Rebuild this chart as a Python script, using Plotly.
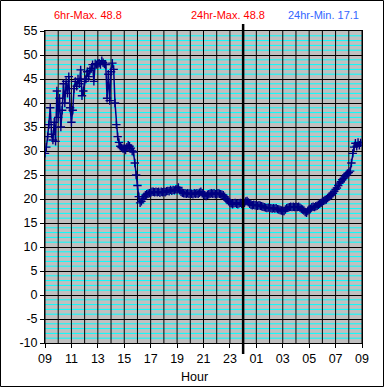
import plotly.graph_objects as go

# Readings every 6 minutes, one list per clock hour (starting at 09:00)
temp_09h = [29.5, 30.8, 33.0, 35.5, 39.0, 33.5, 32.3, 36.0, 32.0, 42.5]
temp_10h = [37.0, 41.0, 35.0, 38.5, 44.0, 40.0, 44.5, 42.0, 45.5, 39.0]
temp_11h = [36.0, 38.5, 43.0, 44.5, 43.5, 45.0, 44.0, 46.9, 41.5, 42.5]
temp_12h = [44.5, 45.0, 46.5, 45.5, 46.8, 47.2, 48.0, 44.5, 48.2, 48.0]
temp_13h = [48.2, 48.3, 48.0, 48.8, 48.4, 48.1, 48.0, 41.0, 46.0, 40.5]
temp_14h = [46.5, 48.3, 47.0, 40.0, 35.5, 33.0, 31.8, 31.0, 30.7, 30.5]
temp_15h = [30.5, 30.2, 30.8, 31.2, 31.0, 30.6, 30.0, 29.8, 27.5, 25.0]
temp_16h = [22.8, 20.5, 19.2, 19.5, 20.0, 20.5, 20.8, 21.0, 21.1, 21.2]
temp_17h = [21.3, 21.5, 21.5, 21.4, 21.5, 21.4, 21.5, 21.3, 21.5, 21.4]
temp_18h = [21.5, 21.4, 21.6, 21.7, 21.6, 21.9, 21.7, 21.9, 21.8, 22.0]
temp_19h = [22.0, 22.4, 21.8, 21.5, 21.3, 21.2, 21.2, 21.1, 21.2, 21.1]
temp_20h = [21.2, 21.1, 21.0, 21.2, 21.1, 21.2, 21.1, 21.3, 21.5, 21.2]
temp_21h = [21.0, 20.8, 20.6, 20.9, 21.0, 21.1, 21.2, 21.1, 21.2, 21.0]
temp_22h = [21.1, 21.2, 21.1, 21.0, 20.9, 20.8, 20.5, 20.1, 19.8, 19.5]
temp_23h = [19.2, 19.1, 18.9, 19.1, 19.2, 19.0, 18.9, 19.1, 19.2, 19.0]
temp_00h = [19.1, 19.2, 19.5, 19.6, 19.3, 19.0, 18.8, 18.7, 18.8, 18.7]
temp_01h = [18.7, 18.6, 18.7, 18.6, 18.5, 18.4, 18.3, 18.2, 18.1, 18.2]
temp_02h = [18.1, 18.1, 18.0, 18.1, 18.0, 18.1, 17.9, 17.8, 17.7, 17.6]
temp_03h = [17.5, 17.5, 17.8, 18.1, 18.2, 18.3, 18.4, 18.3, 18.4, 18.3]
temp_04h = [18.4, 18.3, 18.4, 18.2, 18.0, 17.8, 17.6, 17.3, 17.1, 17.5]
temp_05h = [17.8, 18.0, 18.3, 18.4, 18.3, 18.5, 18.6, 18.8, 19.0, 19.2]
temp_06h = [19.4, 19.6, 19.8, 19.9, 20.2, 20.5, 20.7, 20.9, 21.2, 21.6]
temp_07h = [22.0, 22.3, 22.8, 23.3, 23.6, 24.0, 24.3, 24.6, 25.0, 25.3]
temp_08h = [25.5, 25.8, 27.5, 29.5, 30.8, 31.6, 31.0, 31.8, 31.2, 31.7]

hourly_blocks = [temp_09h, temp_10h, temp_11h, temp_12h, temp_13h, temp_14h,
                 temp_15h, temp_16h, temp_17h, temp_18h, temp_19h, temp_20h,
                 temp_21h, temp_22h, temp_23h, temp_00h, temp_01h, temp_02h,
                 temp_03h, temp_04h, temp_05h, temp_06h, temp_07h, temp_08h]

start_hour = 9
end_hour = 33
sample_minutes = 6

x_tick_hours = [9, 11, 13, 15, 17, 19, 21, 23, 25, 27, 29, 31, 33]
x_tick_labels = ["09", "11", "13", "15", "17", "19", "21", "23",
                 "01", "03", "05", "07", "09"]
y_min, y_max = -10, 55
y_tick_values = [55, 50, 45, 40, 35, 30, 25, 20, 15, 10, 5, 0, -5, -10]
y_tick_labels = ["55", "50", "45", "40", "35", "30", "25", "20", "15",
                 "10", "5", "0", "-5", "-10"]

header_texts = ["6hr-Max. 48.8", "24hr-Max. 48.8", "24hr-Min. 17.1"]
header_colors = ["#FF0000", "#FF0000", "#3366FF"]
midnight_hour = 24

temps = [v for block in hourly_blocks for v in block]
hours = [start_hour + i * sample_minutes / 60 for i in range(len(temps))]

W, H = 385, 388
ml, mr, mt, mb = 45, 23, 31, 45
pw, ph = W - ml - mr, H - mt - mb

fig = go.Figure()
fig.add_trace(go.Scatter(
    x=hours, y=temps, mode="lines+markers",
    line=dict(color="#000080", width=1.5),
    marker=dict(symbol="cross-thin", size=6, line=dict(color="#000080", width=1.4)),
    showlegend=False, hoverinfo="skip",
))

font = "Liberation Sans, Arial, sans-serif"

fig.update_layout(
    width=W, height=H,
    margin=dict(l=ml, r=mr, t=mt, b=mb),
    paper_bgcolor="white",
    plot_bgcolor="#C0C0C0",
    font=dict(family=font, size=12.5, color="black"),
    xaxis=dict(
        range=[start_hour, end_hour], tickvals=x_tick_hours, ticktext=x_tick_labels,
        showgrid=False,
        ticks="outside", ticklen=4, tickcolor="black",
        showline=True, linecolor="black", linewidth=1, mirror=True,
        zeroline=False, fixedrange=True,
        tickfont=dict(family=font, size=12.5),
    ),
    yaxis=dict(
        range=[y_min, y_max], tickvals=y_tick_values, ticktext=y_tick_labels,
        showgrid=True, gridcolor="black", gridwidth=1,
        ticks="outside", ticklen=4, tickcolor="black",
        showline=True, linecolor="black", linewidth=1, mirror=True,
        zeroline=False, fixedrange=True,
        tickfont=dict(family=font, size=12.5),
    ),
)

# cyan minor grid (every 1 unit), drawn first, below everything
for yv in range(y_min + 1, y_max):
    if yv % 5 != 0:
        fig.add_shape(type="line", xref="paper", yref="y", layer="below",
                      x0=0, x1=1, y0=yv, y1=yv,
                      line=dict(color="#00FFFF", width=1))

# hourly vertical black grid lines, on top of the cyan lines
for hr in range(start_hour, end_hour + 1):
    fig.add_shape(type="line", xref="x", yref="paper", layer="below",
                  x0=hr, x1=hr, y0=0, y1=1,
                  line=dict(color="black", width=1))

# midnight marker line (extends slightly beyond plot area)
mid_frac = (midnight_hour - start_hour) / (end_hour - start_hour)
fig.add_shape(type="line", xref="paper", yref="paper",
              x0=mid_frac, x1=mid_frac, y0=-11 / ph, y1=1 + 7 / ph,
              line=dict(color="black", width=2.5))

# outer frame
fig.add_shape(type="rect", xref="paper", yref="paper",
              x0=(0.5 - ml) / pw, x1=(383.5 - ml) / pw,
              y0=(mt + ph - 386.5) / ph, y1=(mt + ph - 0.5) / ph,
              line=dict(color="black", width=1), fillcolor="rgba(0,0,0,0)")

header_px = [88, 228, 323]
for txt, col, px in zip(header_texts, header_colors, header_px):
    fig.add_annotation(text=txt, xref="paper", yref="paper",
                       x=(px - ml) / pw, y=(mt + ph - 15) / ph,
                       showarrow=False, xanchor="center", yanchor="middle",
                       font=dict(family=font, size=11, color=col))

fig.add_annotation(text="Hour", xref="paper", yref="paper",
                   x=(194.5 - ml) / pw, y=(mt + ph - 377) / ph,
                   showarrow=False, xanchor="center", yanchor="middle",
                   font=dict(family=font, size=12.5, color="black"))

fig.write_html("out.html",
               config={"displayModeBar": False, "staticPlot": True},
               post_script="document.body.style.margin='0';document.body.style.padding='0';document.body.style.overflow='hidden';")
